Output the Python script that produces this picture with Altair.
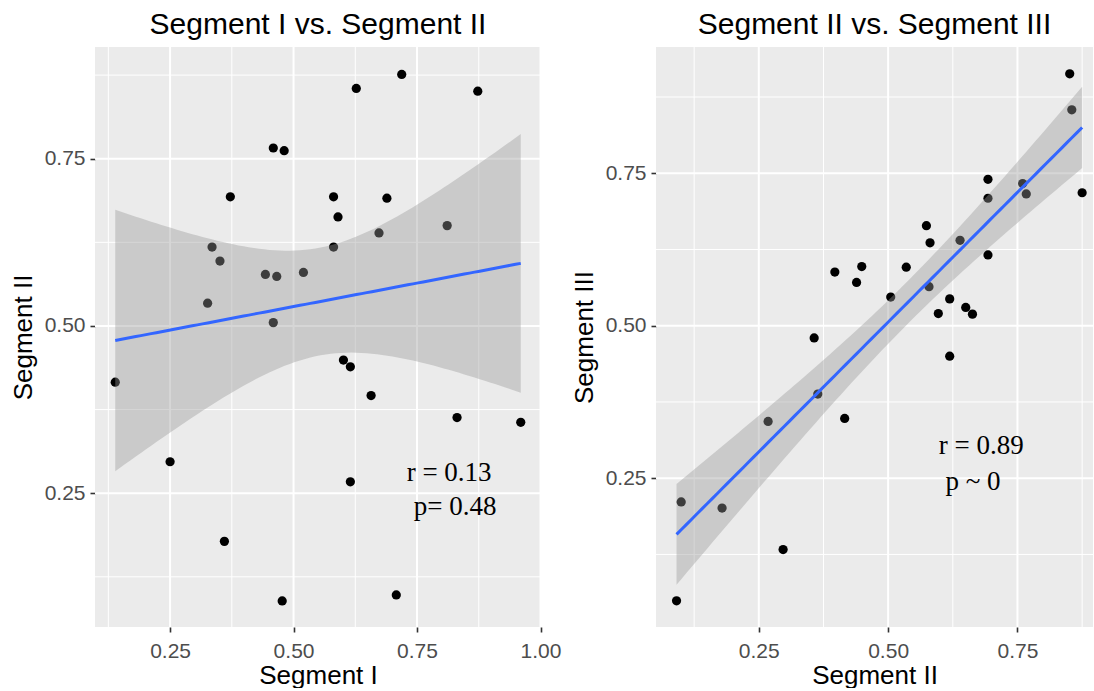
import altair as alt
import numpy as np
import pandas as pd

# ---------------- data ----------------
# Left panel: Segment I (x) vs Segment II (y)
seg1_left = [0.139, 0.250, 0.335, 0.351, 0.326, 0.372, 0.360, 0.459, 0.481, 0.443,
             0.466, 0.459, 0.520, 0.477, 0.627, 0.719, 0.873, 0.581, 0.590, 0.581,
             0.689, 0.673, 0.811, 0.601, 0.615, 0.657, 0.831, 0.960, 0.615, 0.708]
seg2_left = [0.416, 0.297, 0.618, 0.597, 0.534, 0.693, 0.178, 0.766, 0.762, 0.577,
             0.574, 0.505, 0.580, 0.089, 0.855, 0.876, 0.851, 0.693, 0.663, 0.618,
             0.691, 0.639, 0.650, 0.449, 0.439, 0.396, 0.363, 0.356, 0.267, 0.098]

# Right panel: Segment II (x) vs Segment III (y)
seg2_right = [0.851, 0.855, 0.875, 0.693, 0.693, 0.760, 0.767, 0.574, 0.581, 0.639,
              0.693, 0.397, 0.449, 0.439, 0.535, 0.505, 0.579, 0.619, 0.597, 0.650,
              0.663, 0.357, 0.619, 0.364, 0.268, 0.416, 0.100, 0.179, 0.297, 0.091]
seg3_right = [0.913, 0.854, 0.718, 0.740, 0.709, 0.733, 0.716, 0.664, 0.636, 0.640,
              0.616, 0.588, 0.597, 0.571, 0.596, 0.547, 0.564, 0.544, 0.520, 0.530,
              0.519, 0.480, 0.450, 0.388, 0.343, 0.348, 0.211, 0.201, 0.133, 0.049]

titles = ["Segment I vs. Segment II", "Segment II vs. Segment III"]
x_titles = ["Segment I", "Segment II"]
y_titles = ["Segment II", "Segment III"]

ticks_left_x = [0.25, 0.50, 0.75, 1.00]
ticks_left_y = [0.25, 0.50, 0.75]
ticks_right_x = [0.25, 0.50, 0.75]
ticks_right_y = [0.25, 0.50, 0.75]
minor_grid = [0.125, 0.375, 0.625, 0.875]

dom_left_x = [0.098, 1.001]
dom_left_y = [0.050, 0.917]
dom_right_x = [0.0513, 0.896]
dom_right_y = [0.006, 0.957]

annot_left_text = ["r = 0.13", "p= 0.48"]
annot_left_x = [0.815, 0.827]
annot_left_y = [0.280, 0.229]
annot_right_text = ["r = 0.89", "p ~ 0"]
annot_right_x = [0.680, 0.664]
annot_right_y = [0.302, 0.244]

T_975_DF28 = 2.0484  # t quantile for the 95% band (n = 30)


def smooth(xs, ys, n_grid=80):
    """Linear fit + 95% confidence band, as geom_smooth(method='lm')."""
    x = np.asarray(xs)
    y = np.asarray(ys)
    n = len(x)
    b1, b0 = np.polyfit(x, y, 1)
    resid = y - (b0 + b1 * x)
    s = np.sqrt(np.sum(resid ** 2) / (n - 2))
    xbar = x.mean()
    sxx = np.sum((x - xbar) ** 2)
    gx = np.linspace(x.min(), x.max(), n_grid)
    fit = b0 + b1 * gx
    se = s * np.sqrt(1.0 / n + (gx - xbar) ** 2 / sxx)
    return pd.DataFrame({"x": gx, "fit": fit,
                         "lo": fit - T_975_DF28 * se, "hi": fit + T_975_DF28 * se})


FONT = "Liberation Sans"


def panel(xs, ys, xdom, ydom, xticks, yticks, title, xtitle, ytitle,
          atext, ax, ay, width, height):
    xs_ = alt.Scale(domain=xdom, nice=False, zero=False)
    ys_ = alt.Scale(domain=ydom, nice=False, zero=False)
    xax = alt.Axis(values=xticks, format=".2f", title=xtitle, labelFlush=False,
                   labelOverlap=False, labelPadding=8, titlePadding=1)
    yax = alt.Axis(values=yticks, format=".2f", title=ytitle, labelPadding=5,
                   titlePadding=8)

    def X(f):
        return alt.X(f, scale=xs_, axis=xax)

    def Y(f):
        return alt.Y(f, scale=ys_, axis=yax)

    pts = pd.DataFrame({"x": xs, "y": ys})
    band = smooth(xs, ys)
    ann = pd.DataFrame({"t": atext, "x": ax, "y": ay})

    minor_x = alt.Chart(pd.DataFrame({"x": minor_grid})).mark_rule(
        color="white", strokeWidth=1, clip=True).encode(x=X("x:Q"))
    minor_y = alt.Chart(pd.DataFrame({"y": minor_grid})).mark_rule(
        color="white", strokeWidth=1, clip=True).encode(y=Y("y:Q"))
    major_x = alt.Chart(pd.DataFrame({"x": xticks})).mark_rule(
        color="white", strokeWidth=2, clip=True).encode(x=X("x:Q"))
    major_y = alt.Chart(pd.DataFrame({"y": yticks})).mark_rule(
        color="white", strokeWidth=2, clip=True).encode(y=Y("y:Q"))

    points = alt.Chart(pts).mark_circle(size=85, color="black", opacity=1, clip=True).encode(
        x=X("x:Q"), y=Y("y:Q"))
    area = alt.Chart(band).mark_area(color="#999999", opacity=0.4, clip=True).encode(
        x=X("x:Q"), y=Y("lo:Q"), y2="hi:Q")
    line = alt.Chart(band).mark_line(color="#3366FF", strokeWidth=3, clip=True).encode(
        x=X("x:Q"), y=Y("fit:Q"))
    text = alt.Chart(ann).mark_text(font="Liberation Serif", fontSize=27, color="black",
                                    align="center", baseline="middle").encode(
        x=X("x:Q"), y=Y("y:Q"), text="t:N")
    return alt.layer(minor_x, minor_y, major_x, major_y, points, area, line, text).properties(
        width=width, height=height,
        title=alt.TitleParams(text=title, font=FONT, fontSize=30, fontWeight="normal",
                              color="black", anchor="middle", baseline="alphabetic",
                              offset=-17),
    )


left = panel(seg1_left, seg2_left, dom_left_x, dom_left_y, ticks_left_x, ticks_left_y,
             titles[0], x_titles[0], y_titles[0],
             annot_left_text, annot_left_x, annot_left_y, 446, 580)
right = panel(seg2_right, seg3_right, dom_right_x, dom_right_y, ticks_right_x, ticks_right_y,
              titles[1], x_titles[1], y_titles[1],
              annot_right_text, annot_right_x, annot_right_y, 437, 580)

chart = alt.hconcat(left, right, spacing=115, bounds="flush").properties(
    padding={"left": 10, "top": 10, "right": 0, "bottom": 0},
    background="white",
).configure_view(
    fill="#EBEBEB", strokeWidth=0
).configure_axis(
    grid=False, domain=False,
    tickColor="#333333", tickSize=5, tickWidth=1.6,
    labelColor="#4D4D4D", labelFont=FONT, labelFontSize=21,
    titleColor="black", titleFont=FONT, titleFontSize=26, titleFontWeight="normal",
)

chart.save("out.html", embed_options={"renderer": "svg", "actions": False})
